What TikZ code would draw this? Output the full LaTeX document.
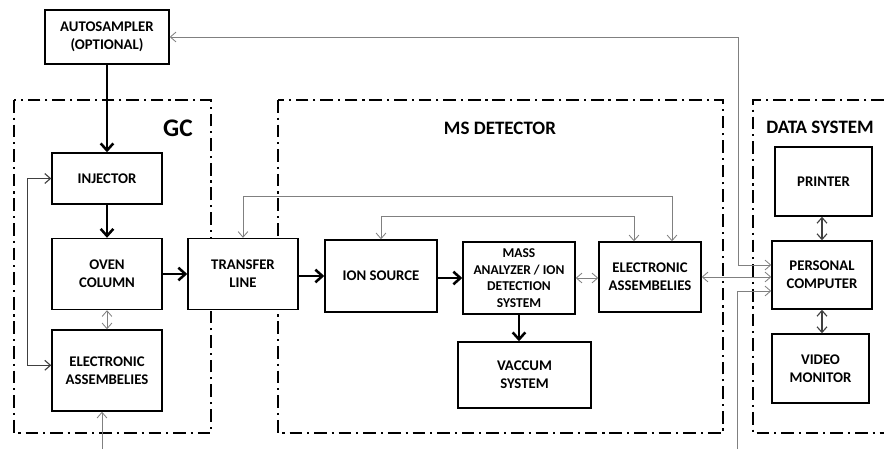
\documentclass[tikz,border=0pt]{standalone}
\usepackage{fontspec}
\setmainfont{Carlito}
\usetikzlibrary{arrows.meta}

\begin{document}
\begin{tikzpicture}[x=0.025cm,y=-0.025cm,
    blk/.style={draw,fill=white,line width=1pt,align=center,inner sep=1pt,
      font=\fontsize{10.5}{13}\selectfont\bfseries},
    zone/.style={line width=1.4pt,dash pattern=on 9pt off 3.5pt on 1.5pt off 3.5pt},
    title/.style={font=\fontsize{13.5}{15}\selectfont\bfseries},
    flow/.style={line width=1.8pt,-{Straight Barb[length=5pt,width=9pt]}},
    link/.style={gray,line width=0.6pt,{Straight Barb[length=4pt,width=7pt]}-{Straight Barb[length=4pt,width=7pt]}},
    feed/.style={gray,line width=0.6pt,-{Straight Barb[length=4pt,width=7pt]}},
    ctrl/.style={black!75,line width=0.8pt,{Straight Barb[length=4pt,width=7pt]}-{Straight Barb[length=4pt,width=7pt]}}]
    \useasboundingbox (0,0) rectangle (884,449);

    % zones
    \draw[zone] (14,100) rectangle (211,433);
    \draw[zone] (278,100) rectangle (723,433);
    \draw[zone] (884,100) -- (753,100) -- (753,433) -- (884,433);
    \node[title,font=\fontsize{18}{20}\selectfont\bfseries] (gclbl) at (178,128) {GC};
    \node[title] (mslbl) at (500,128) {MS DETECTOR};
    \node[title] (dslbl) at (820,127) {DATA SYSTEM};

    % GC
    \node[blk,minimum width=3.1cm,minimum height=1.35cm] (auto) at (107,37) {AUTOSAMPLER\\(OPTIONAL)};
    \node[blk,minimum width=2.75cm,minimum height=1.275cm] (inj) at (107,178.5) {INJECTOR};
    \node[blk,minimum width=2.75cm,minimum height=1.775cm] (oven) at (107,274) {OVEN\\COLUMN};
    \node[blk,minimum width=2.75cm,minimum height=2.025cm] (elgc) at (107,370.5) {ELECTRONIC\\ASSEMBELIES};

    % MS detector
    \node[blk,minimum width=2.75cm,minimum height=1.775cm] (trans) at (243,274) {TRANSFER\\LINE};
    \node[blk,minimum width=2.8cm,minimum height=1.8cm,font=\fontsize{10.5}{13}\selectfont\bfseries] (ion) at (381,276) {ION SOURCE};
    \node[blk,minimum width=2.8cm,minimum height=1.8cm,font=\fontsize{9.6}{11.7}\selectfont\bfseries] (mass) at (519,278) {MASS\\ANALYZER / ION\\DETECTION\\SYSTEM};
    \node[blk,minimum width=3.325cm,minimum height=1.65cm] (vac) at (524.5,375) {VACCUM\\SYSTEM};
    \node[blk,minimum width=2.55cm,minimum height=1.75cm] (elms) at (650,277) {ELECTRONIC\\ASSEMBELIES};

    % data system
    \node[blk,minimum width=2.425cm,minimum height=1.725cm] (printer) at (823.5,181.5) {PRINTER};
    \node[blk,minimum width=2.5cm,minimum height=1.7cm] (pc) at (822,275) {PERSONAL\\COMPUTER};
    \node[blk,minimum width=2.425cm,minimum height=1.725cm] (video) at (820.5,368.5) {VIDEO\\MONITOR};

    \coordinate (gcin) at (102,449);
    \coordinate (dsin) at (737,449);

    \draw[flow] (auto) -- (inj);
    \draw[flow] (inj) -- (oven);
    \draw[flow] (oven) -- (trans);
    \draw[flow] (trans.east |- ion) -- (ion);
    \draw[flow] (ion.east |- mass) -- (mass);
    \draw[flow] (mass.south) -- (mass.south |- vac.north);

    \draw[ctrl] (inj.west) -- ++(-24,0) |- ([yshift=0.13cm]elgc.west);
    \draw[link] (oven) -- (elgc);
    \draw[feed] (gcin) -- (gcin |- elgc.south);
    \draw[link] (trans.north) -- (trans.north |- 0,196) -| ([xshift=0.55cm]elms.north);
    \draw[link] (ion.north) -- (ion.north |- 0,216) -| ([xshift=-0.4cm]elms.north);
    \draw[link] (mass.east) -- (mass.east -| elms.west);
    \draw[link] (elms.east) -- (elms.east -| pc.west);
    \draw[link] (auto.east) -| ([xshift=-0.825cm,yshift=0.25cm]pc.west) -- ([yshift=0.25cm]pc.west);
    \draw[feed] (dsin) |- ([yshift=-0.4cm]pc.west);
    \draw[ctrl] (printer.south -| pc) -- (pc.north);
    \draw[ctrl] (pc.south) -- (pc.south |- video.north);
\end{tikzpicture}
\end{document}
